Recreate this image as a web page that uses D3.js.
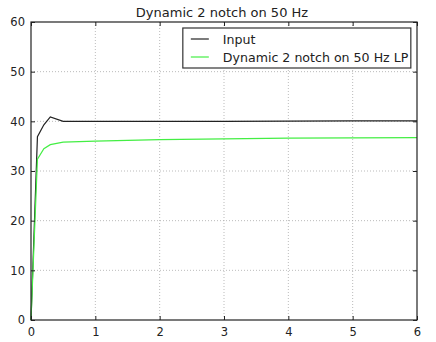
<!DOCTYPE html>
<html>
<head>
<meta charset="utf-8">
<style>
  body { margin: 0; background: #fff; }
  text { font-family: "DejaVu Sans", sans-serif; fill: #222; }
</style>
</head>
<body>
<svg></svg>
<script src="https://d3js.org/d3.v7.min.js"></script>
<script>
// data
var inputT = [0, 0.1, 0.2, 0.3, 0.5, 1, 2, 3, 4, 5, 6];
var inputV = [0, 36.9, 39.3, 40.9, 40.0, 40.0, 40.0, 40.0, 40.05, 40.1, 40.1];
var lpT = [0, 0.1, 0.2, 0.3, 0.5, 1, 2, 3, 4, 5, 6];
var lpV = [0, 32.4, 34.5, 35.3, 35.8, 36.0, 36.3, 36.45, 36.6, 36.65, 36.7];
var xTicks = [0, 1, 2, 3, 4, 5, 6];
var yTicks = [0, 10, 20, 30, 40, 50, 60];
var titleText = "Dynamic 2 notch on 50 Hz";
var seriesNames = ["Input", "Dynamic 2 notch on 50 Hz LP"];
var seriesColors = ["#222222", "#44ee44"];

var width = 436, height = 342;
var margin = {top: 22, right: 19, bottom: 22, left: 31};
var w = width - margin.left - margin.right;
var h = height - margin.top - margin.bottom;

var svg = d3.select("svg").attr("width", width).attr("height", height);
var g = svg.append("g").attr("transform", "translate(" + margin.left + "," + margin.top + ")");

var x = d3.scaleLinear().domain([0, 6]).range([0, w]);
var y = d3.scaleLinear().domain([0, 60]).range([h, 0]);

// grid
g.append("g").selectAll("line").data(xTicks.slice(1, -1)).enter().append("line")
  .attr("x1", function(d) { return x(d); }).attr("x2", function(d) { return x(d); })
  .attr("y1", 0).attr("y2", h)
  .attr("stroke", "#aaa").attr("stroke-width", 0.8).attr("stroke-dasharray", "1,2");
g.append("g").selectAll("line").data(yTicks.slice(1, -1)).enter().append("line")
  .attr("y1", function(d) { return y(d); }).attr("y2", function(d) { return y(d); })
  .attr("x1", 0).attr("x2", w)
  .attr("stroke", "#aaa").attr("stroke-width", 0.8).attr("stroke-dasharray", "1,2");

// lines
var line = d3.line().x(function(d) { return x(d[0]); }).y(function(d) { return y(d[1]); });
g.append("path").datum(d3.zip(inputT, inputV)).attr("d", line)
  .attr("fill", "none").attr("stroke", seriesColors[0]).attr("stroke-width", 1.2);
g.append("path").datum(d3.zip(lpT, lpV)).attr("d", line)
  .attr("fill", "none").attr("stroke", seriesColors[1]).attr("stroke-width", 1.2);

// axes, ticks inward
var xb = g.append("g").attr("transform", "translate(0," + h + ")")
  .call(d3.axisBottom(x).tickValues(xTicks).tickSize(-4).tickPadding(8).tickFormat(d3.format("d")));
var xt = g.append("g").call(d3.axisTop(x).tickValues(xTicks).tickSize(-4).tickFormat(""));
var yl = g.append("g")
  .call(d3.axisLeft(y).tickValues(yTicks).tickSize(-4).tickPadding(6).tickFormat(d3.format("d")));
var yr = g.append("g").attr("transform", "translate(" + w + ",0)")
  .call(d3.axisRight(y).tickValues(yTicks).tickSize(-4).tickFormat(""));
[xb, xt, yl, yr].forEach(function(a) {
  a.select(".domain").remove();
  a.selectAll("line").attr("stroke", "#222");
  a.selectAll("text").style("font-size", "11.5px").style("font-family", "DejaVu Sans").attr("fill", "#222");
});

g.append("rect").attr("width", w).attr("height", h)
  .attr("fill", "none").attr("stroke", "#222").attr("stroke-width", 1.2);

// title
svg.append("text").attr("x", margin.left + w / 2 - 2).attr("y", 17)
  .attr("text-anchor", "middle").style("font-size", "13px").text(titleText);

// legend
var lg = g.append("g").attr("transform", "translate(" + (x(2.36)) + ",6)");
lg.append("rect").attr("width", 228).attr("height", 40)
  .attr("fill", "#fff").attr("stroke", "#333").attr("stroke-width", 1.2);
seriesNames.forEach(function(n, i) {
  var yy = 11 + i * 18;
  lg.append("line").attr("x1", 8).attr("x2", 26).attr("y1", yy).attr("y2", yy)
    .attr("stroke", seriesColors[i]).attr("stroke-width", 1.2);
  lg.append("text").attr("x", 40).attr("y", yy + 4.5).style("font-size", "12.6px").text(n);
});
</script>
</body>
</html>
